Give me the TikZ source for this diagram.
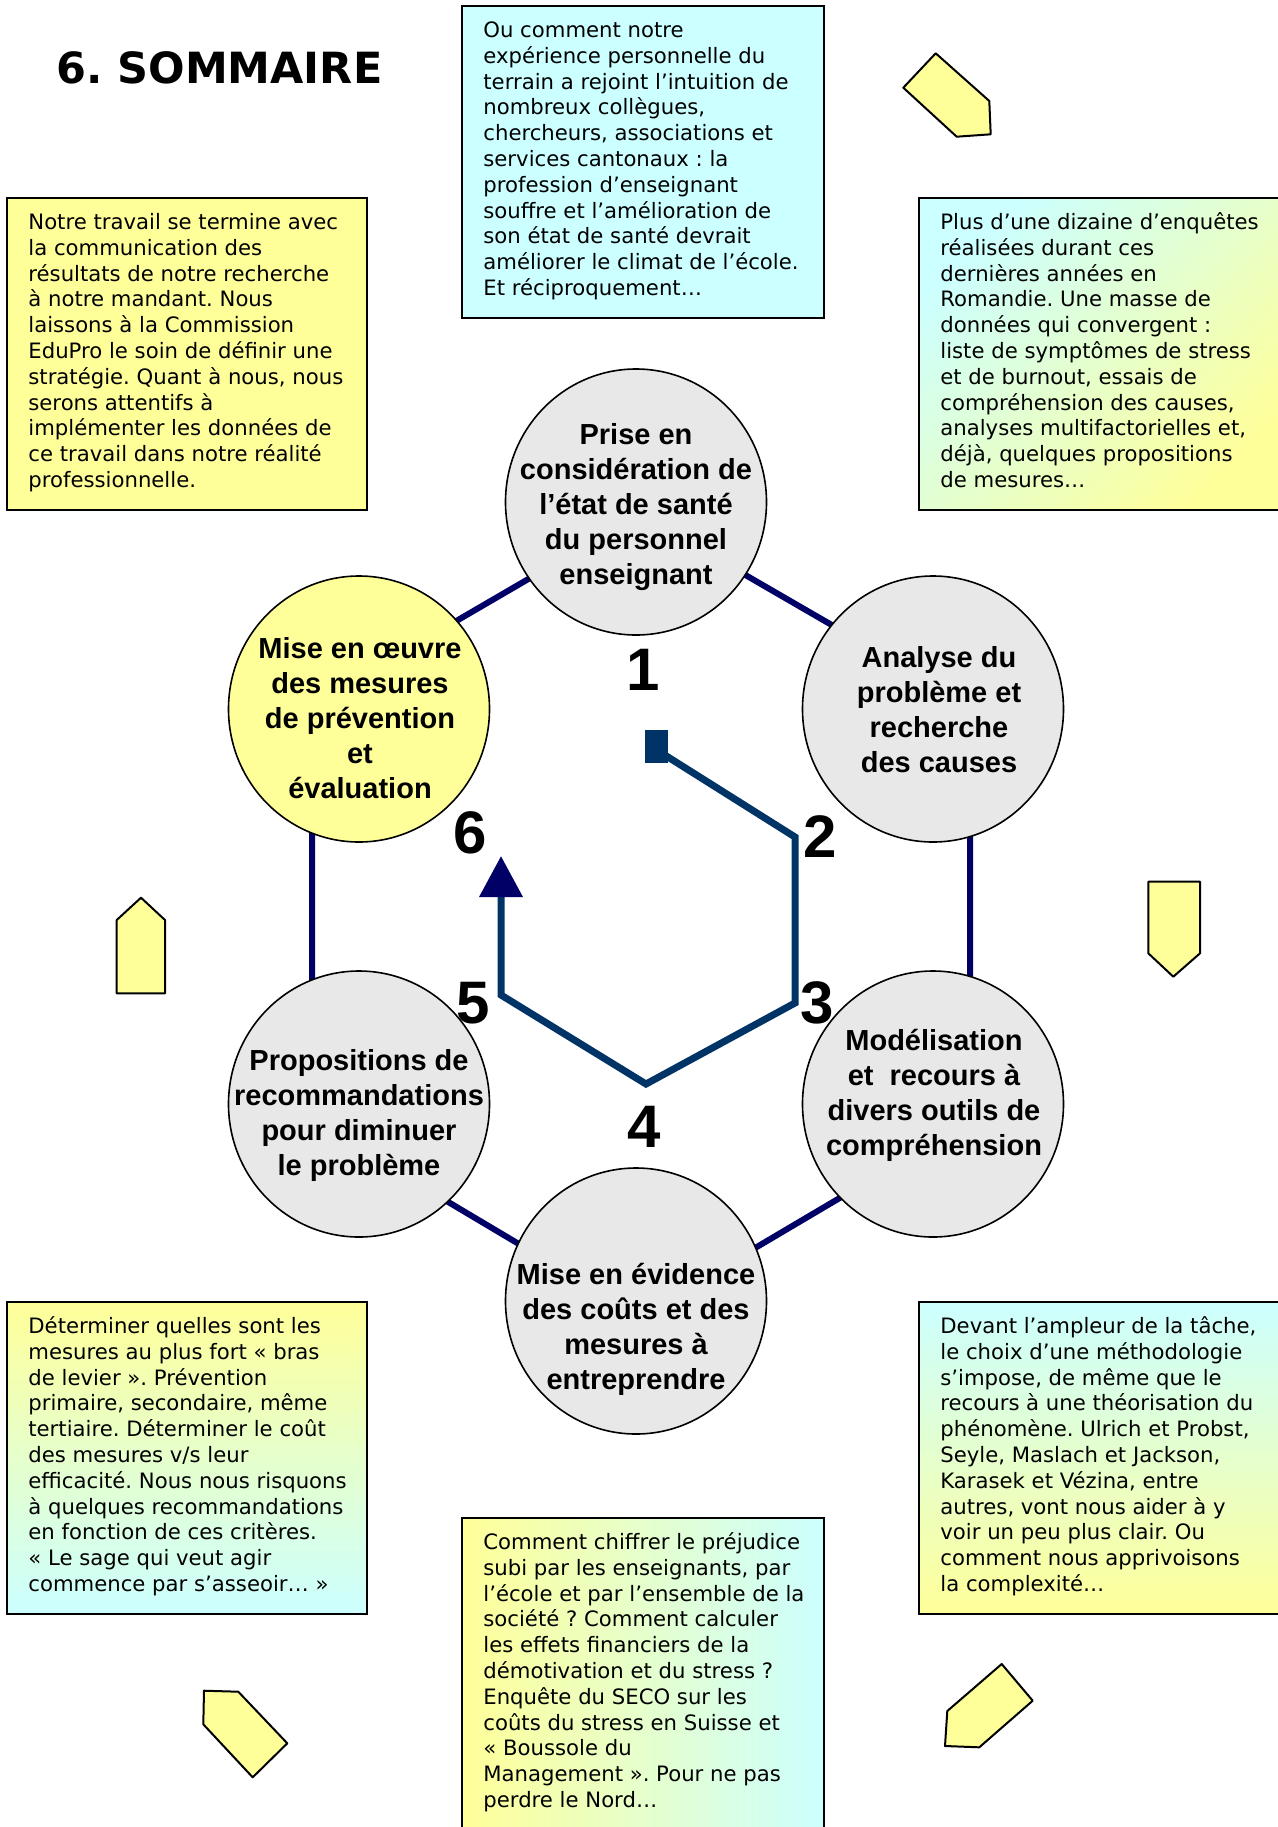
\documentclass[tikz,border=0pt]{standalone}
\usepackage{fontspec}
\setmainfont{DejaVu Sans}
\newfontfamily\arialfont{Liberation Sans}
\usetikzlibrary{shapes.geometric,arrows.meta}
\frenchspacing

\definecolor{paleyellow}{HTML}{FFFF99}
\definecolor{palecyan}{HTML}{CCFFFF}
\definecolor{bubblegray}{HTML}{E8E8E8}
\definecolor{hexnavy}{HTML}{000066}
\definecolor{flowblue}{HTML}{003366}

\begin{document}
\begin{tikzpicture}[x=0.5pt,y=-0.5pt,
  boxtxt/.style={anchor=north west, inner sep=0pt, align=left,
    font=\fontsize{10.6pt}{12.9pt}\selectfont},
  boxframe/.style={draw=black, line width=1pt},
  bubble/.style={ellipse, draw=black, line width=0.8pt, inner sep=0pt,
    minimum width=130.5pt, minimum height=133pt, fill=bubblegray},
  bubbletxt/.style={inner sep=0pt, align=center,
    font=\arialfont\bfseries\fontsize{14.5pt}{17.5pt}\selectfont},
  numlbl/.style={inner sep=0pt, font=\arialfont\bfseries\fontsize{30pt}{30pt}\selectfont},
  tag/.style={fill=paleyellow, draw=black, line width=1pt, line join=round},
  hexedge/.style={draw=hexnavy, line width=3pt, line join=miter},
  flow/.style={draw=flowblue, line width=3.5pt, line join=miter},
]
\fill[white] (0,0) rectangle (1278,1827);
\useasboundingbox (0,0) rectangle (1278,1827);

% ---- title
\node[anchor=west, inner sep=0pt, font=\bfseries\fontsize{21.5pt}{24pt}\selectfont]
  (title) at (56,68) {6. SOMMAIRE};

% ---- text boxes (corners)
\coordinate (bTopA) at (462,6);    \coordinate (bTopB) at (824,318);
\coordinate (bLeftA) at (7,198);   \coordinate (bLeftB) at (367,510);
\coordinate (bRightA) at (919,198);\coordinate (bRightB) at (1292,510);
\coordinate (bBLA) at (7,1302);    \coordinate (bBLB) at (367,1614);
\coordinate (bBRA) at (919,1302);  \coordinate (bBRB) at (1292,1614);
\coordinate (bBCA) at (462,1518);  \coordinate (bBCB) at (824,1842);

\fill[palecyan] (bTopA) rectangle (bTopB);
\draw[boxframe] (bTopA) rectangle (bTopB);
\fill[paleyellow] (bLeftA) rectangle (bLeftB);
\draw[boxframe] (bLeftA) rectangle (bLeftB);
\shade[top color=palecyan, bottom color=paleyellow, shading angle=45] (bRightA) rectangle (bRightB);
\draw[boxframe] (bRightA) rectangle (bRightB);
\shade[top color=paleyellow, bottom color=palecyan] (bBLA) rectangle (bBLB);
\draw[boxframe] (bBLA) rectangle (bBLB);
\shade[top color=palecyan, bottom color=paleyellow] (bBRA) rectangle (bBRB);
\draw[boxframe] (bBRA) rectangle (bBRB);
\shade[left color=paleyellow, right color=palecyan] (bBCA) rectangle (bBCB);
\draw[boxframe] (bBCA) rectangle (bBCB);

\node[boxtxt] (tTop) at ([shift={(21,13)}]bTopA) {\rule{0pt}{9pt}Ou comment notre\\
expérience personnelle du\\
terrain a rejoint l’intuition de\\
nombreux collègues,\\
chercheurs, associations et\\
services cantonaux~: la\\
profession d’enseignant\\
souffre et l’amélioration de\\
son état de santé devrait\\
améliorer le climat de l’école.\\
Et réciproquement…};

\node[boxtxt] (tLeft) at ([shift={(21,13)}]bLeftA) {\rule{0pt}{9pt}Notre travail se termine avec\\
la communication des\\
résultats de notre recherche\\
à notre mandant. Nous\\
laissons à la Commission\\
EduPro le soin de définir une\\
stratégie. Quant à nous, nous\\
serons attentifs à\\
implémenter les données de\\
ce travail dans notre réalité\\
professionnelle.};

\node[boxtxt] (tRight) at ([shift={(21,13)}]bRightA) {\rule{0pt}{9pt}Plus d’une dizaine d’enquêtes\\
réalisées durant ces\\
dernières années en\\
Romandie. Une masse de\\
données qui convergent~:\\
liste de symptômes de stress\\
et de burnout, essais de\\
compréhension des causes,\\
analyses multifactorielles et,\\
déjà, quelques propositions\\
de mesures…};

\node[boxtxt] (tBL) at ([shift={(21,13)}]bBLA) {\rule{0pt}{9pt}Déterminer quelles sont les\\
mesures au plus fort «~bras\\
de levier~». Prévention\\
primaire, secondaire, même\\
tertiaire. Déterminer le coût\\
des mesures v/s leur\\
efficacité. Nous nous risquons\\
à quelques recommandations\\
en fonction de ces critères.\\
«~Le sage qui veut agir\\
commence par s’asseoir…~»};

\node[boxtxt] (tBR) at ([shift={(21,13)}]bBRA) {\rule{0pt}{9pt}Devant l’ampleur de la tâche,\\
le choix d’une méthodologie\\
s’impose, de même que le\\
recours à une théorisation du\\
phénomène. Ulrich et Probst,\\
Seyle, Maslach et Jackson,\\
Karasek et Vézina, entre\\
autres, vont nous aider à y\\
voir un peu plus clair. Ou\\
comment nous apprivoisons\\
la complexité…};

\node[boxtxt] (tBC) at ([shift={(21,13)}]bBCA) {\rule{0pt}{9pt}Comment chiffrer le préjudice\\
subi par les enseignants, par\\
l’école et par l’ensemble de la\\
société~? Comment calculer\\
les effets financiers de la\\
démotivation et du stress~?\\
Enquête du SECO sur les\\
coûts du stress en Suisse et\\
«~Boussole du\\
Management~». Pour ne pas\\
perdre le Nord…};

% ---- small direction tags between the boxes
\draw[tag] (903.3,87.7) -- (935.7,53.3) -- (989.3,101) -- (990.7,134.3) -- (956.7,136.7) -- cycle;
\draw[tag] (1148.3,881.7) -- (1200,881.7) -- (1200,953.3) -- (1173.3,976.7) -- (1148.3,953.3) -- cycle;
\draw[tag] (1001.7,1664) -- (1032.7,1700.7) -- (979.3,1747.3) -- (945,1746) -- (947.3,1711) -- cycle;
\draw[tag] (204,1690.7) -- (238.3,1691.7) -- (287.3,1743.3) -- (252.7,1777.3) -- (203.3,1724.3) -- cycle;
\draw[tag] (141,897.7) -- (165,920) -- (165,993.3) -- (116.7,993.3) -- (116.7,920) -- cycle;

% ---- hexagon behind the six stages
\coordinate (h1) at (640,514);
\coordinate (h2) at (970,705);
\coordinate (h3) at (970,1121);
\coordinate (h4) at (640,1316);
\coordinate (h5) at (312,1121);
\coordinate (h6) at (312,705);
\draw[hexedge] (h1) -- (h2) -- (h3) -- (h4) -- (h5) -- (h6) -- cycle;

% ---- six stages
\node[bubble] (c1) at (636,502) {};
\node[bubble] (c2) at (933,709) {};
\node[bubble] (c3) at (933,1104) {};
\node[bubble] (c4) at (636,1301) {};
\node[bubble] (c5) at (359,1104) {};
\node[bubble, fill=paleyellow] (c6) at (359,709) {};

\node[bubbletxt] (l1) at ([shift={(0,5)}]c1) {Prise en\\considération de\\l’état de santé\\du personnel\\enseignant};
\node[bubbletxt] (l2) at ([shift={(6,1)}]c2) {Analyse du\\problème et\\recherche\\des causes};
\node[bubbletxt] (l3) at ([shift={(1,-9)}]c3) {Modélisation\\et\ \ recours à\\divers outils de\\compréhension};
\node[bubbletxt] (l4) at ([shift={(0,28)}]c4) {Mise en évidence\\des coûts et des\\mesures à\\entreprendre};
\node[bubbletxt] (l5) at ([shift={(0,11)}]c5) {Propositions de\\recommandations\\pour diminuer\\le problème};
\node[bubbletxt] (l6) at ([shift={(1,9)}]c6) {Mise en œuvre\\des mesures\\de prévention\\et\\évaluation};

% ---- inner cycle path with start marker and arrow head
\coordinate (p0) at (660,752);
\coordinate (p1) at (795,837);
\coordinate (p2) at (795,1003);
\coordinate (p3) at (646,1084);
\coordinate (p4) at (501,995);
\coordinate (p5) at (501,856);
\coordinate (sqA) at (645,730);
\coordinate (sqB) at (668,763);
\draw[flow, -{Triangle[width=21pt,length=20.5pt,color=hexnavy]}]
  (p0) -- (p1) -- (p2) -- (p3) -- (p4) -- (p5);
\fill[flowblue] (sqA) rectangle (sqB);

% ---- stage numbers
\node[numlbl] (n1) at (643,670) {1};
\node[numlbl] (n2) at (820,837) {2};
\node[numlbl] (n3) at (817,1003) {3};
\node[numlbl] (n4) at (644,1127) {4};
\node[numlbl] (n5) at (473,1003) {5};
\node[numlbl] (n6) at (470,833) {6};
\end{tikzpicture}
\end{document}
